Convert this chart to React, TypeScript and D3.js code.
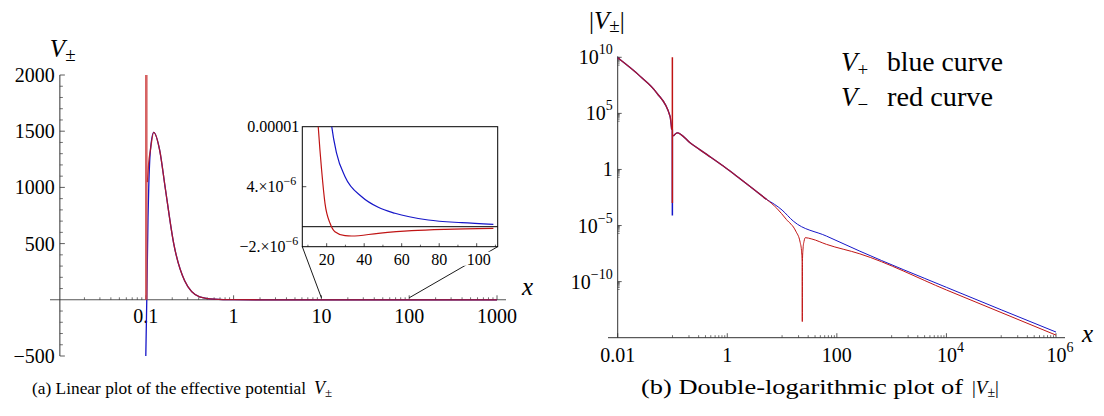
import React from "react";
import * as d3 from "d3";

const FONT = "'Liberation Serif', 'Times New Roman', serif";
const BLUE = "#1616c8";
const RED = "#c01414";
const AXIS = "#333";

// ---------- (a) linear plot ----------
const linBlueX = [0.1, 0.1026, 0.106, 0.108, 0.113, 0.123, 0.144, 0.167, 0.208, 0.277, 0.41, 0.6, 1, 2, 10, 100, 1000];
const linBlueV = [-500, 0, 735, 1000, 1335, 1490, 1330, 988, 500, 170, 27, 6, 1, 0.1, 0, 0, 0];
const linRedX = [0.1045, 0.108, 0.113, 0.123, 0.144, 0.167, 0.208, 0.277, 0.41, 0.6, 1, 2, 10, 100, 1000];
const linRedV = [1047, 1220, 1335, 1490, 1330, 988, 500, 170, 27, 6, 1, 0.1, 0, 0, 0];
const linRedSpikeX = 0.1013;
const linRedSpikeV = [0, 2000];
const linYTicks = [-500, 500, 1000, 1500, 2000];
const linXTicks = [0.1, 1, 10, 100, 1000];
const linXTickLabels = ["0.1", "1", "10", "100", "1000"];

// ---------- inset ----------
const insBlueX = [21.5, 22.7, 25.3, 29.8, 38.7, 47.5, 56.4, 74.2, 92, 108.9];
const insBlueV = [1.2e-5, 1.0e-5, 7.34e-6, 5.0e-6, 3.0e-6, 1.94e-6, 1.34e-6, 0.67e-6, 0.4e-6, 0.24e-6];
const insRedX = [14.8, 15.5, 17.3, 19.1, 21.8, 24.4, 29.8, 33.3, 47.5, 65.3, 83.1, 108.9];
const insRedV = [1.2e-5, 1.0e-5, 5.67e-6, 2.34e-6, 0.34e-6, -0.5e-6, -0.9e-6, -0.93e-6, -0.66e-6, -0.4e-6, -0.26e-6, -0.16e-6];
const insXTicks = [20, 40, 60, 80, 100];
const insXMinor = [10, 30, 50, 70, 90, 110];
const insZoomFrom = [10, 100];

// ---------- (b) log-log plot ----------
const logSharedX = [0.01, 0.0255, 0.0515, 0.0902, 0.0966];
const logSharedV = [9e9, 2.1e8, 6.8e6, 5.6e4, 3.6e3];
const logSpikeX = 0.0995;
const logBlueSpikeV = [3.6e3, 8e-5];
const logRedSpikeV = [1e-3, 1e10];
const logAfterX = [0.1035, 0.122, 0.209, 0.421, 0.845, 1.71, 5.24];
const logAfterV = [930, 1860, 240, 22, 2.0, 0.148, 2.1e-3];
const logBlueTailX = [5.24, 10, 16, 64.6, 263, 1e4, 1e6];
const logBlueTailV = [2.1e-3, 2.4e-4, 2.5e-5, 1.15e-6, 5.2e-8, 3.1e-11, 3.2e-15];
const logRedTailX = [5.24, 8, 12, 17.8, 21.4, 22.6, 23.25, 23.4, 23.55, 24.2, 25.2, 26.5, 35, 64.6, 263, 1e4, 1e6];
const logRedTailV = [2.1e-3, 3.5e-4, 3.47e-5, 3.16e-6, 3.16e-7, 6.3e-8, 6.3e-9, 2.75e-14, 6.3e-9, 1e-7, 4e-7, 8.3e-7, 6.3e-7, 2.1e-7, 3.0e-8, 1.8e-11, 1.7e-15];
const logXTicks = [0.01, 1, 100, 1e4, 1e6];
const logXTickLabels = [["0.01", ""], ["1", ""], ["100", ""], ["10", "4"], ["10", "6"]];
const logYTicks = [1e10, 1e5, 1, 1e-5, 1e-10];
const logYTickLabels = [["10", "10"], ["10", "5"], ["1", ""], ["10", "\u22125"], ["10", "\u221210"]];

export default function App() {
  const xL = d3.scaleLog().domain([0.01, 1000]).range([58, 497]);
  const yL = d3.scaleLinear().domain([-500, 2000]).range([356, 75]);
  const xI = d3.scaleLinear().domain([7, 111.2]).range([302.3, 497.7]);
  const yI = d3.scaleLinear().domain([-2e-6, 1e-5]).range([246.7, 126.7]);
  const xR = d3.scaleLog().domain([0.01, 1e6]).range([617.7, 1056]);
  const yR = d3.scaleLog().domain([1e-15, 1e10]).range([337.7, 57.3]);

  const mk = (xs: any, ys: any) =>
    d3
      .line<[number, number]>()
      .x((d) => xs(d[0]))
      .y((d) => ys(d[1]))
      .curve(d3.curveMonotoneX);
  const zip = (a: number[], b: number[]) => a.map((v, i) => [v, b[i]] as [number, number]);

  const lineL = mk(xL, yL);
  const lineI = mk(xI, yI);
  const lineR = mk(xR, yR);

  const yAxisX = xL(0.0105);
  const y0 = yL(0);

  const linXMinor: number[] = [];
  [0.01, 0.1, 1, 10, 100].forEach((d) => {
    for (let k = 2; k <= 9; k++) linXMinor.push(d * k);
  });
  const linYMinor = d3.range(-500, 2001, 100).filter((v) => v % 500 !== 0);

  const logXMinor: number[] = [];
  [0.1, 10, 1000, 1e5].forEach((d) => {
    for (let k = 1; k <= 9; k++) logXMinor.push(d * k);
  });
  const logYMinor: number[] = [];
  [1e10, 1e5, 1, 1e-5, 1e-10].forEach((M) => {
    for (let k = 2; k <= 9; k++) logYMinor.push((M / 10) * k);
  });

  const xRaxisY = yR(1e-15);
  const yRaxisX = xR(0.01);

  return (
    <svg
      width={1104}
      height={416}
      style={{ position: "absolute", left: 0, top: 0, background: "#fff" }}
      fontFamily={FONT}
    >
      <defs>
        <clipPath id="insClip">
          <rect x={xI(7)} y={yI(1e-5)} width={xI(111.2) - xI(7)} height={yI(-2e-6) - yI(1e-5)} />
        </clipPath>
        <clipPath id="logClip">
          <rect x={600} y={yR(1e10) - 2} width={480} height={yR(1e-15) - yR(1e10) + 2} />
        </clipPath>
      </defs>

      {/* ================= (a) ================= */}
      <line x1={50} x2={506} y1={y0} y2={y0} stroke="#555" strokeWidth={1.1} />
      <line x1={yAxisX} x2={yAxisX} y1={yL(2000)} y2={yL(-500)} stroke={AXIS} strokeWidth={1} />
      {linXTicks.map((t) => (
        <line key={"lxt" + t} x1={xL(t)} x2={xL(t)} y1={y0} y2={y0 - 4.5} stroke={AXIS} strokeWidth={0.8} />
      ))}
      {linXMinor.map((t, i) => (
        <line key={"lxm" + i} x1={xL(t)} x2={xL(t)} y1={y0} y2={y0 - 2.5} stroke={AXIS} strokeWidth={0.7} />
      ))}
      {linYTicks.map((t) => (
        <line key={"lyt" + t} x1={yAxisX} x2={yAxisX + 5} y1={yL(t)} y2={yL(t)} stroke={AXIS} strokeWidth={0.8} />
      ))}
      {linYMinor.map((t) => (
        <line key={"lym" + t} x1={yAxisX} x2={yAxisX + 3} y1={yL(t)} y2={yL(t)} stroke={AXIS} strokeWidth={0.7} />
      ))}
      {linYTicks.map((t) => (
        <text key={"lyl" + t} x={yAxisX - 5} y={yL(t) + 7} fontSize={20} textAnchor="end">
          {t < 0 ? "\u2212" + Math.abs(t) : String(t)}
        </text>
      ))}
      {linXTicks.map((t, i) => (
        <text key={"lxl" + t} x={xL(t)} y={323} fontSize={20} textAnchor="middle">
          {linXTickLabels[i]}
        </text>
      ))}
      <text x={yAxisX - 10} y={57} fontSize={25}>
        <tspan fontStyle="italic">V</tspan>
        <tspan fontSize={19} dy={4}>±</tspan>
      </text>
      <text x={522} y={295} fontSize={25} fontStyle="italic">x</text>

      <path d={lineL(zip(linBlueX, linBlueV)) || ""} fill="none" stroke={BLUE} strokeWidth={1.3} />
      <line
        x1={xL(linRedSpikeX)}
        x2={xL(linRedSpikeX)}
        y1={yL(linRedSpikeV[0])}
        y2={yL(linRedSpikeV[1])}
        stroke="#d04848"
        strokeWidth={2.6}
        opacity={0.85}
      />
      <path d={lineL(zip(linRedX, linRedV)) || ""} fill="none" stroke={RED} strokeWidth={1.3} opacity={0.85} />

      <line x1={xI(7)} y1={yI(-2e-6)} x2={xL(insZoomFrom[0])} y2={y0 - 2} stroke="#000" strokeWidth={0.9} />
      <line x1={xI(111.2)} y1={yI(-2e-6)} x2={xL(insZoomFrom[1])} y2={y0 - 2} stroke="#000" strokeWidth={0.9} />

      {/* ---- inset ---- */}
      <rect
        x={xI(7)}
        y={yI(1e-5)}
        width={xI(111.2) - xI(7)}
        height={yI(-2e-6) - yI(1e-5)}
        fill="#fff"
        stroke="#000"
        strokeWidth={1}
      />
      <line x1={xI(7)} x2={xI(111.2)} y1={yI(0)} y2={yI(0)} stroke="#000" strokeWidth={1} />
      {insXTicks.map((t) => (
        <line key={"ixt" + t} x1={xI(t)} x2={xI(t)} y1={yI(-2e-6)} y2={yI(-2e-6) - 3.5} stroke="#000" strokeWidth={0.7} />
      ))}
      {insXMinor.map((t) => (
        <line key={"ixm" + t} x1={xI(t)} x2={xI(t)} y1={yI(-2e-6)} y2={yI(-2e-6) - 2} stroke="#000" strokeWidth={0.6} />
      ))}
      <line x1={xI(7)} x2={xI(7) + 4} y1={yI(4e-6)} y2={yI(4e-6)} stroke="#000" strokeWidth={0.7} />
      <g clipPath="url(#insClip)">
        <path d={lineI(zip(insBlueX, insBlueV)) || ""} fill="none" stroke={BLUE} strokeWidth={1.2} />
        <path d={lineI(zip(insRedX, insRedV)) || ""} fill="none" stroke={RED} strokeWidth={1.2} />
      </g>
      {insXTicks.map((t) => (
        <g key={"ixl" + t}>
          {t === 100 && <rect x={xI(t) - 14} y={yI(-2e-6) + 5} width={30} height={14} fill="#fff" />}
          <text x={xI(t) + (t === 100 ? 2 : 0)} y={265} fontSize={16} textAnchor="middle">
            {t}
          </text>
        </g>
      ))}
      <text x={xI(7) - 3} y={yI(1e-5) + 5} fontSize={16} textAnchor="end">0.00001</text>
      <text x={xI(7) - 6} y={yI(4e-6) + 5} fontSize={16} textAnchor="end">
        4.×10<tspan fontSize={12} dy={-7}>{"\u22126"}</tspan>
      </text>
      <text x={xI(7) - 4} y={yI(-2e-6) + 5} fontSize={16} textAnchor="end">
        {"\u22122.×10"}
        <tspan fontSize={12} dy={-7}>{"\u22126"}</tspan>
      </text>

      {/* ================= (b) ================= */}
      <line x1={608} x2={1065} y1={xRaxisY} y2={xRaxisY} stroke={AXIS} strokeWidth={1} />
      <line x1={yRaxisX} x2={yRaxisX} y1={yR(1e10) - 1} y2={xRaxisY} stroke={AXIS} strokeWidth={1} />
      {logXTicks.map((t) => (
        <line key={"rxt" + t} x1={xR(t)} x2={xR(t)} y1={xRaxisY} y2={xRaxisY - 4.5} stroke={AXIS} strokeWidth={0.8} />
      ))}
      {logXMinor.map((t, i) => (
        <line key={"rxm" + i} x1={xR(t)} x2={xR(t)} y1={xRaxisY} y2={xRaxisY - 2.5} stroke={AXIS} strokeWidth={0.7} />
      ))}
      {logYTicks.map((t) => (
        <line key={"ryt" + t} x1={yRaxisX} x2={yRaxisX + 4} y1={yR(t)} y2={yR(t)} stroke={AXIS} strokeWidth={0.8} />
      ))}
      {logYMinor.map((t, i) => (
        <line key={"rym" + i} x1={yRaxisX} x2={yRaxisX + 2} y1={yR(t)} y2={yR(t)} stroke={AXIS} strokeWidth={0.6} />
      ))}
      {logYTicks.map((t, i) => (
        <text key={"ryl" + i} x={yRaxisX - 5} y={yR(t) + 7} fontSize={20} textAnchor="end">
          {logYTickLabels[i][0]}
          {logYTickLabels[i][1] && (
            <tspan fontSize={14} dy={-10}>
              {logYTickLabels[i][1]}
            </tspan>
          )}
        </text>
      ))}
      {logXTicks.map((t, i) => (
        <text key={"rxl" + i} x={xR(t) + (logXTickLabels[i][1] ? 4 : 0)} y={362} fontSize={20} textAnchor="middle">
          {logXTickLabels[i][0]}
          {logXTickLabels[i][1] && (
            <tspan fontSize={14} dy={-10}>
              {logXTickLabels[i][1]}
            </tspan>
          )}
        </text>
      ))}
      <text x={589} y={29} fontSize={25}>
        {"|"}
        <tspan fontStyle="italic">V</tspan>
        <tspan fontSize={19} dy={3}>±</tspan>
        <tspan dy={-3}>|</tspan>
      </text>
      <text x={1082} y={342} fontSize={25} fontStyle="italic">x</text>

      <g clipPath="url(#logClip)">
        <path d={lineR(zip(logSharedX, logSharedV)) || ""} fill="none" stroke={BLUE} strokeWidth={1.3} />
        <line
          x1={xR(logSpikeX)}
          x2={xR(logSpikeX)}
          y1={yR(logBlueSpikeV[0])}
          y2={yR(logBlueSpikeV[1])}
          stroke={BLUE}
          strokeWidth={1.5}
        />
        <path d={lineR(zip(logAfterX, logAfterV)) || ""} fill="none" stroke={BLUE} strokeWidth={1.3} />
        <path d={lineR(zip(logBlueTailX, logBlueTailV)) || ""} fill="none" stroke={BLUE} strokeWidth={1} />

        <path d={lineR(zip(logSharedX, logSharedV)) || ""} fill="none" stroke={RED} strokeWidth={1.3} opacity={0.85} />
        <line
          x1={xR(logSpikeX)}
          x2={xR(logSpikeX)}
          y1={yR(logRedSpikeV[0])}
          y2={yR(logRedSpikeV[1])}
          stroke={RED}
          strokeWidth={1.5}
        />
        <path d={lineR(zip(logAfterX, logAfterV)) || ""} fill="none" stroke={RED} strokeWidth={1.3} opacity={0.85} />
        <path d={lineR(zip(logRedTailX, logRedTailV)) || ""} fill="none" stroke={RED} strokeWidth={1} />
      </g>

      {/* legend */}
      <text x={841} y={71} fontSize={27}>
        <tspan fontStyle="italic">V</tspan>
        <tspan fontSize={19} dy={5}>+</tspan>
      </text>
      <text x={887} y={71} fontSize={27} textLength={116} lengthAdjust="spacingAndGlyphs">blue curve</text>
      <text x={841} y={106} fontSize={27}>
        <tspan fontStyle="italic">V</tspan>
        <tspan fontSize={19} dy={5}>{"\u2212"}</tspan>
      </text>
      <text x={887} y={106} fontSize={27} textLength={106} lengthAdjust="spacingAndGlyphs">red curve</text>

      {/* captions */}
      <text x={32} y={394} fontSize={17} textLength={274} lengthAdjust="spacingAndGlyphs">
        (a) Linear plot of the effective potential
      </text>
      <text x={314} y={394} fontSize={18}>
        <tspan fontStyle="italic">V</tspan>
        <tspan fontSize={13} dy={3}>±</tspan>
      </text>
      <text x={641} y={394} fontSize={20} textLength={322} lengthAdjust="spacingAndGlyphs">
        (b) Double-logarithmic plot of
      </text>
      <text x={972} y={394} fontSize={19}>
        {"|"}
        <tspan fontStyle="italic">V</tspan>
        <tspan fontSize={14} dy={3}>±</tspan>
        <tspan dy={-3}>|</tspan>
      </text>
    </svg>
  );
}
